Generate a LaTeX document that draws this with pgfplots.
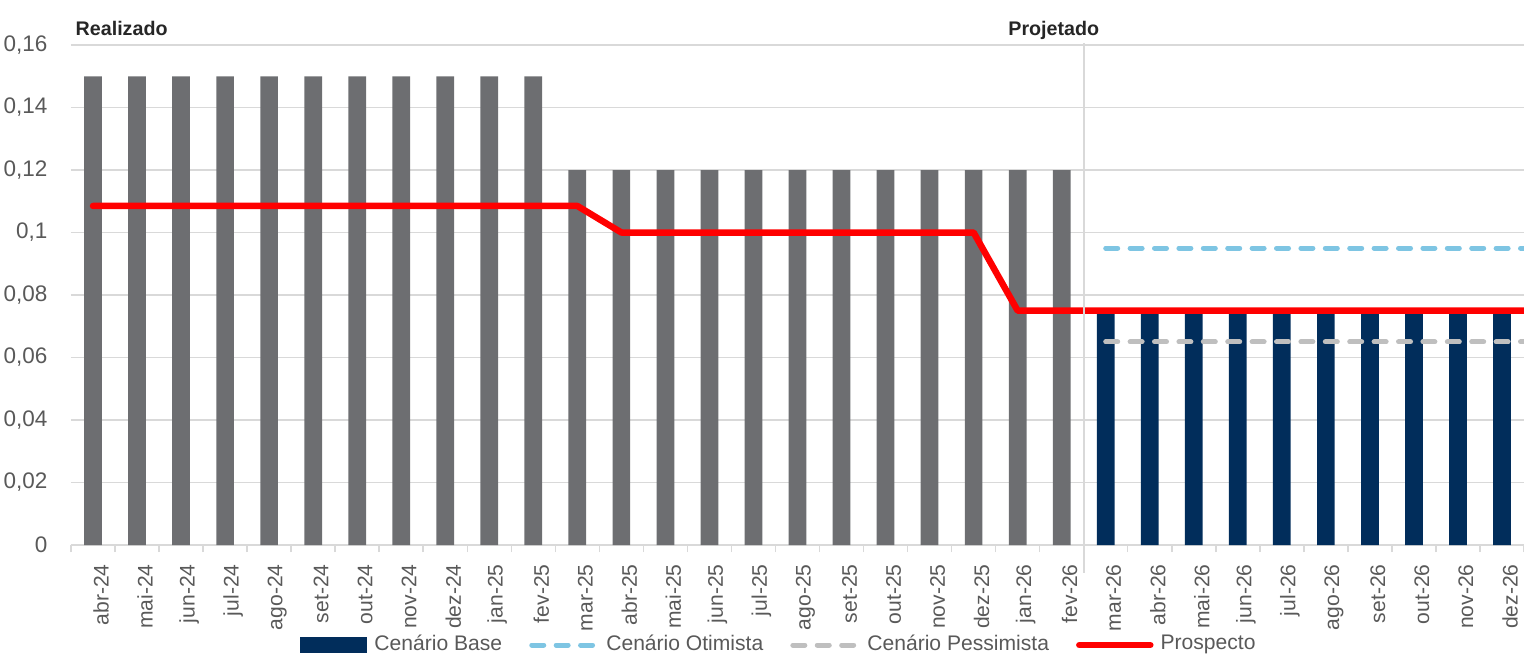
\documentclass[border=0pt]{standalone}
\usepackage{fontspec}
\setmainfont{Liberation Sans}
\usepackage{pgfplots}
\usepackage{pgfplotstable}
\pgfplotsset{compat=1.18}

\definecolor{barGray}{HTML}{6D6E71}
\definecolor{baseNavy}{HTML}{012D5B}
\definecolor{otimBlue}{HTML}{7EC5E3}
\definecolor{pessGray}{HTML}{BFBFBF}
\definecolor{gridGray}{HTML}{D9D9D9}
\definecolor{labelGray}{HTML}{595959}
\definecolor{headDark}{HTML}{262626}

% realizado (barras cinza)
\pgfplotstableread{
x y
0 0.15
1 0.15
2 0.15
3 0.15
4 0.15
5 0.15
6 0.15
7 0.15
8 0.15
9 0.15
10 0.15
11 0.12
12 0.12
13 0.12
14 0.12
15 0.12
16 0.12
17 0.12
18 0.12
19 0.12
20 0.12
21 0.12
22 0.12
}\realizado

% cenario base (barras azul)
\pgfplotstableread{
x y
23 0.075
24 0.075
25 0.075
26 0.075
27 0.075
28 0.075
29 0.075
30 0.075
31 0.075
32 0.075
}\base

\pgfplotstableread{
x y
23 0.095
32.5 0.095
}\otimista

\pgfplotstableread{
x y
23 0.065
32.5 0.065
}\pessimista

\pgfplotstableread{
x y
0 0.1085
11 0.1085
12 0.100
20 0.100
21 0.075
32.5 0.075
}\prospecto

\begin{document}
\begin{tikzpicture}
\begin{axis}[
    scale only axis,
    width=14.53cm, height=5cm,
    xmin=-0.5, xmax=32.5,
    ymin=0, ymax=0.16,
    clip=false,
    axis x line*=bottom, axis y line*=left,
    y axis line style={draw=none},
    x axis line style={draw=gridGray, line width=0.2mm},
    ytick={0,0.02,0.04,0.06,0.08,0.1,0.12,0.14,0.16},
    scaled y ticks=false,
    ymajorgrids,
    grid style={gridGray, line width=0.15mm},
    xtick={0,...,32},
    xticklabels={abr-24,mai-24,jun-24,jul-24,ago-24,set-24,out-24,nov-24,dez-24,jan-25,fev-25,mar-25,abr-25,mai-25,jun-25,jul-25,ago-25,set-25,out-25,nov-25,dez-25,jan-26,fev-26,mar-26,abr-26,mai-26,jun-26,jul-26,ago-26,set-26,out-26,nov-26,dez-26},
    major tick length=0.07cm,
    tick align=outside,
    xtick style={draw=none},
    ytick style={draw=none},
    extra x ticks={-0.5,0.5,...,32.5},
    extra x tick labels={},
    extra x tick style={xtick style={draw=gridGray, line width=0.15mm}},
    x tick label style={rotate=90, anchor=east, font=\fontsize{6}{7}\selectfont, text=labelGray, yshift=-0.08cm},
    y tick label style={font=\fontsize{6.4}{7.5}\selectfont, text=labelGray, anchor=east, inner sep=0pt, xshift=-0.16cm,
        /pgf/number format/.cd, fixed, precision=2, use comma, assume math mode=true},
    legend style={at={(0.489,-0.2)}, anchor=center, draw=none, fill=none,
        font=\fontsize{6}{7}\selectfont, text=labelGray,
        legend columns=4,
        /tikz/every even column/.append style={column sep=0.2cm}},
]
\addplot[ybar, bar width=0.177cm, bar shift=0pt, fill=barGray, draw=none, forget plot] table {\realizado};
\addplot[ybar, bar width=0.177cm, bar shift=0pt, fill=baseNavy, draw=none,
    legend image code/.code={\fill[baseNavy] (0cm,-0.08cm) rectangle (0.67cm,0.08cm);}] table {\base};
\addlegendentry{Cenário Base}
\addplot[otimBlue, line width=0.5mm, dash pattern=on 1.2mm off 1.24mm, line cap=round,
    legend image code/.code={\draw[otimBlue, line width=0.5mm, dash pattern=on 1.2mm off 1.24mm, line cap=round] (0cm,0cm) -- (0.65cm,0cm);}] table {\otimista};
\addlegendentry{Cenário Otimista}
\addplot[pessGray, line width=0.5mm, dash pattern=on 1.2mm off 1.24mm, line cap=round,
    legend image code/.code={\draw[pessGray, line width=0.5mm, dash pattern=on 1.2mm off 1.24mm, line cap=round] (0cm,0cm) -- (0.65cm,0cm);}] table {\pessimista};
\addlegendentry{Cenário Pessimista}
\addplot[red, line width=0.65mm, line cap=round, line join=round,
    legend image code/.code={\draw[red, line width=0.65mm] (0cm,0cm) -- (0.71cm,0cm);}] table {\prospecto};
\addlegendentry{Prospecto}

\draw[gridGray, line width=0.2mm] (axis cs:22.5,0.1606) -- ([yshift=-0.28cm]axis cs:22.5,0);
\node[anchor=base west, inner sep=0pt, xshift=0.04cm, yshift=0.1cm, font=\bfseries\fontsize{5.6}{6}\selectfont, text=headDark]
    at (rel axis cs:0,1) {Realizado};
\node[anchor=base, inner sep=0pt, yshift=0.1cm, font=\bfseries\fontsize{5.6}{6}\selectfont, text=headDark]
    at (axis cs:21.82,0.16) {Projetado};
\coordinate (bl) at (rel axis cs:0,0);
\coordinate (tr) at (rel axis cs:1,1);
\end{axis}
\pgfresetboundingbox
\path[use as bounding box] ([xshift=-0.71cm, yshift=-1.12cm]bl) rectangle ([yshift=0.45cm]tr);
\end{tikzpicture}
\end{document}
